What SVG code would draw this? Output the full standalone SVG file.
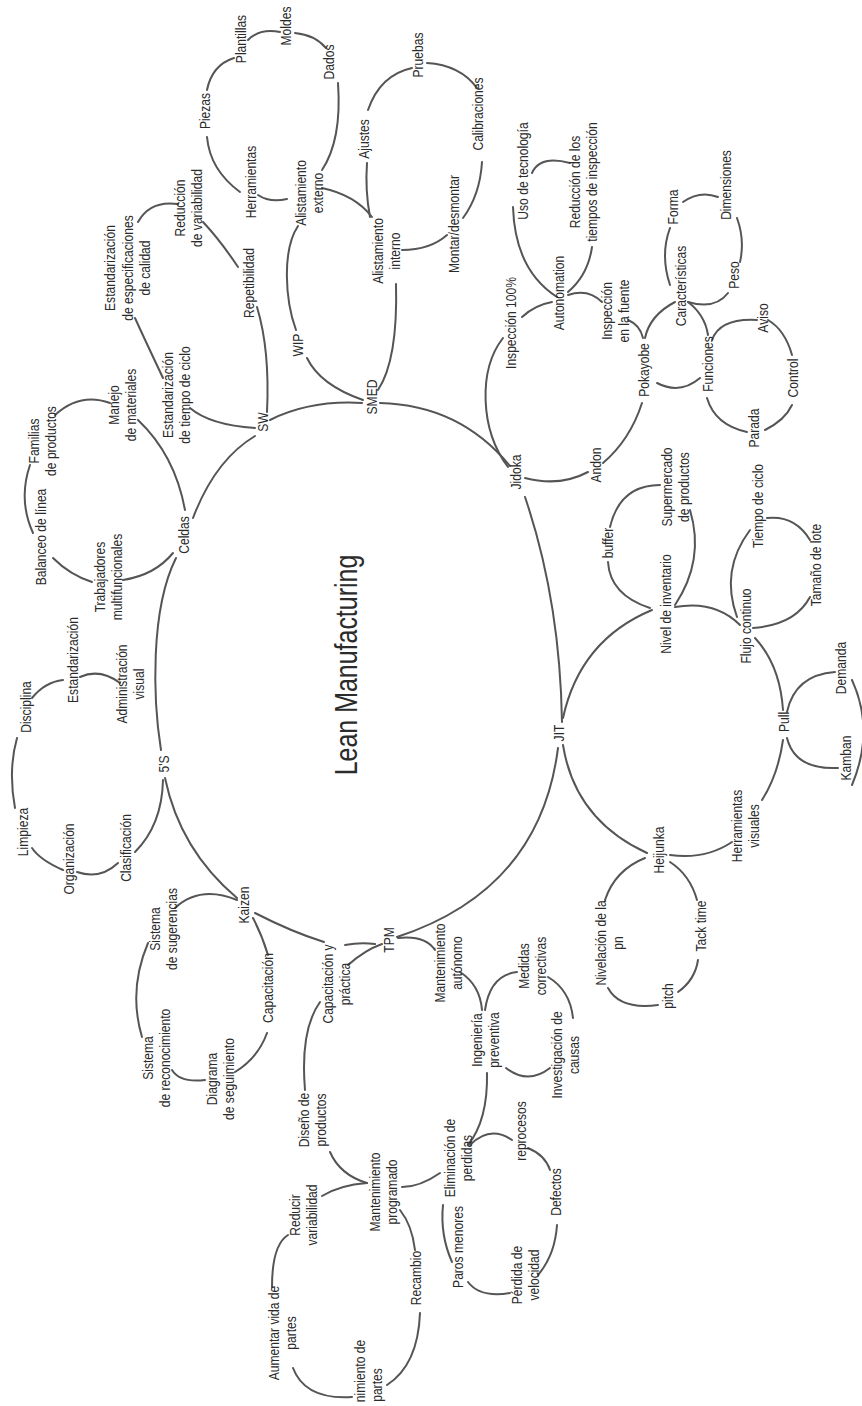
<svg xmlns="http://www.w3.org/2000/svg" width="862" height="1406" viewBox="0 0 862 1406">
<style>
.c{fill:none;stroke:#555;stroke-width:2;stroke-linecap:round}
.t{font-family:"Liberation Sans",Arial,sans-serif;font-size:15.5px;fill:#2b2b2b;text-anchor:middle}
.ti{font-size:32px}
</style>
<rect width="862" height="1406" fill="#fff"/>
<g id="connectors">
<path class="c" d="M270,420 Q310,400 362,403"/>
<path class="c" d="M380,403 Q460,405 510,466"/>
<path class="c" d="M525,497 Q560,600 562,722"/>
<path class="c" d="M558,748 Q540,890 397,937"/>
<path class="c" d="M255,913 Q292,932 324,942"/>
<path class="c" d="M345,945 Q360,942 375,944"/>
<path class="c" d="M348,965 Q365,950 382,944"/>
<path class="c" d="M165,778 Q180,850 237,898"/>
<path class="c" d="M161,750 C153,700 150,610 176,558"/>
<path class="c" d="M193,518 Q215,460 255,436"/>
<path class="c" d="M267,412 Q270,350 257,307"/>
<path class="c" d="M255,428 Q210,425 190,408"/>
<path class="c" d="M163,378 Q145,340 135,318"/>
<path class="c" d="M138,222 Q150,200 178,204"/>
<path class="c" d="M203,222 Q220,240 238,267"/>
<path class="c" d="M363,400 Q320,385 307,358"/>
<path class="c" d="M296,330 C285,300 282,250 298,226"/>
<path class="c" d="M378,390 Q398,360 396,284"/>
<path class="c" d="M258,195 Q270,203 287,199"/>
<path class="c" d="M240,192 Q210,170 207,137"/>
<path class="c" d="M207,90 Q212,65 234,58"/>
<path class="c" d="M248,40 Q260,28 280,32"/>
<path class="c" d="M295,33 Q315,35 326,48"/>
<path class="c" d="M338,83 Q342,140 322,170"/>
<path class="c" d="M322,188 Q355,195 372,217"/>
<path class="c" d="M370,217 Q365,190 367,163"/>
<path class="c" d="M368,110 Q380,75 412,68"/>
<path class="c" d="M427,63 Q460,65 477,88"/>
<path class="c" d="M482,162 Q480,195 463,218"/>
<path class="c" d="M447,235 Q430,250 402,250"/>
<path class="c" d="M508,467 C480,430 478,370 503,338"/>
<path class="c" d="M522,317 Q535,305 552,302"/>
<path class="c" d="M557,297 Q515,270 513,207"/>
<path class="c" d="M532,173 Q540,155 570,163"/>
<path class="c" d="M592,247 Q588,275 568,292"/>
<path class="c" d="M568,295 Q588,288 602,302"/>
<path class="c" d="M628,320 Q640,325 643,338"/>
<path class="c" d="M645,338 Q650,315 675,302"/>
<path class="c" d="M670,285 Q660,255 670,228"/>
<path class="c" d="M683,202 Q700,190 718,197"/>
<path class="c" d="M737,218 Q745,240 740,262"/>
<path class="c" d="M728,293 Q715,310 688,302"/>
<path class="c" d="M688,302 Q705,315 708,335"/>
<path class="c" d="M712,340 Q720,318 757,320"/>
<path class="c" d="M768,320 Q785,330 792,355"/>
<path class="c" d="M792,405 Q785,420 765,430"/>
<path class="c" d="M747,432 Q715,425 707,398"/>
<path class="c" d="M700,378 Q680,395 657,383"/>
<path class="c" d="M642,403 Q630,440 603,463"/>
<path class="c" d="M588,472 Q560,487 525,478"/>
<path class="c" d="M563,718 Q580,640 652,610"/>
<path class="c" d="M650,608 Q610,595 608,562"/>
<path class="c" d="M610,527 Q620,485 660,485"/>
<path class="c" d="M690,510 Q705,560 675,605"/>
<path class="c" d="M675,607 Q715,600 740,625"/>
<path class="c" d="M737,617 Q720,570 750,530"/>
<path class="c" d="M767,518 Q795,515 810,540"/>
<path class="c" d="M810,597 Q795,625 753,628"/>
<path class="c" d="M755,638 Q780,665 783,710"/>
<path class="c" d="M787,712 Q795,675 835,672"/>
<path class="c" d="M852,680 Q875,730 852,785"/>
<path class="c" d="M787,738 Q795,770 838,768"/>
<path class="c" d="M783,740 Q778,775 762,800"/>
<path class="c" d="M732,842 Q705,860 670,855"/>
<path class="c" d="M563,745 Q575,820 647,853"/>
<path class="c" d="M645,858 Q615,870 605,900"/>
<path class="c" d="M670,862 Q690,875 697,900"/>
<path class="c" d="M698,960 Q695,980 678,992"/>
<path class="c" d="M658,1005 Q620,1010 608,988"/>
<path class="c" d="M398,938 Q425,935 435,950"/>
<path class="c" d="M460,972 Q480,985 482,1010"/>
<path class="c" d="M485,1010 Q490,975 517,972"/>
<path class="c" d="M548,977 Q570,990 573,1018"/>
<path class="c" d="M506,1068 Q528,1085 550,1068"/>
<path class="c" d="M487,1073 Q488,1120 468,1145"/>
<path class="c" d="M470,1145 Q490,1125 512,1140"/>
<path class="c" d="M528,1148 Q545,1155 550,1170"/>
<path class="c" d="M557,1225 Q555,1255 538,1275"/>
<path class="c" d="M468,1282 Q480,1298 510,1293"/>
<path class="c" d="M443,1205 Q440,1235 452,1262"/>
<path class="c" d="M440,1173 Q420,1187 402,1187"/>
<path class="c" d="M367,1183 Q340,1175 330,1152"/>
<path class="c" d="M305,1090 Q300,1030 320,1002"/>
<path class="c" d="M367,1183 Q340,1185 322,1196"/>
<path class="c" d="M288,1235 Q272,1245 272,1287"/>
<path class="c" d="M293,1368 Q305,1400 352,1397"/>
<path class="c" d="M387,1385 Q418,1365 420,1313"/>
<path class="c" d="M415,1250 Q412,1225 400,1210"/>
<path class="c" d="M237,900 Q200,885 175,908"/>
<path class="c" d="M148,943 Q128,990 142,1037"/>
<path class="c" d="M172,1070 Q180,1083 205,1080"/>
<path class="c" d="M235,1072 Q258,1058 267,1033"/>
<path class="c" d="M253,918 Q262,935 268,955"/>
<path class="c" d="M163,780 Q162,825 135,852"/>
<path class="c" d="M118,863 Q100,880 77,872"/>
<path class="c" d="M63,870 Q40,860 32,848"/>
<path class="c" d="M15,808 Q8,770 17,738"/>
<path class="c" d="M32,698 Q45,682 63,680"/>
<path class="c" d="M80,677 Q100,668 120,683"/>
<path class="c" d="M185,510 Q175,455 138,420"/>
<path class="c" d="M110,403 Q80,392 55,415"/>
<path class="c" d="M30,465 Q18,500 33,533"/>
<path class="c" d="M53,558 Q70,575 92,582"/>
<path class="c" d="M123,580 Q155,575 173,553"/>
</g>
<g id="n-title" transform="translate(345,665) rotate(-90) scale(.78,1)"><text class="t ti" y="12">Lean Manufacturing</text></g>
<g id="n-plantillas" transform="translate(240,39) rotate(-90) scale(.78,1)"><text class="t" y="5.5">Plantillas</text></g>
<g id="n-moldes" transform="translate(285,26) rotate(-90) scale(.78,1)"><text class="t" y="5.5">Moldes</text></g>
<g id="n-piezas" transform="translate(204,111) rotate(-90) scale(.78,1)"><text class="t" y="5.5">Piezas</text></g>
<g id="n-herramientas" transform="translate(250,182) rotate(-90) scale(.78,1)"><text class="t" y="5.5">Herramientas</text></g>
<g id="n-reduccion-var" transform="translate(188,208) rotate(-90) scale(.78,1)"><text class="t"><tspan x="0" y="-3.2">Reducción</tspan><tspan x="0" y="14.3">de variabilidad</tspan></text></g>
<g id="n-esp-calidad" transform="translate(127,268) rotate(-90) scale(.78,1)"><text class="t"><tspan x="0" y="-12">Estandarización</tspan><tspan x="0" y="5.5">de especificaciones</tspan><tspan x="0" y="23">de calidad</tspan></text></g>
<g id="n-repetibilidad" transform="translate(248,283) rotate(-90) scale(.78,1)"><text class="t" y="5.5">Repetibilidad</text></g>
<g id="n-alist-externo" transform="translate(309,193) rotate(-90) scale(.78,1)"><text class="t"><tspan x="0" y="-3.2">Alistamiento</tspan><tspan x="0" y="14.3">externo</tspan></text></g>
<g id="n-wip" transform="translate(297,345) rotate(-90) scale(.78,1)"><text class="t" y="5.5">WIP</text></g>
<g id="n-dados" transform="translate(328,62) rotate(-90) scale(.78,1)"><text class="t" y="5.5">Dados</text></g>
<g id="n-pruebas" transform="translate(417,55) rotate(-90) scale(.78,1)"><text class="t" y="5.5">Pruebas</text></g>
<g id="n-ajustes" transform="translate(363,139) rotate(-90) scale(.78,1)"><text class="t" y="5.5">Ajustes</text></g>
<g id="n-calibraciones" transform="translate(477,114) rotate(-90) scale(.78,1)"><text class="t" y="5.5">Calibraciones</text></g>
<g id="n-alist-interno" transform="translate(386,251) rotate(-90) scale(.78,1)"><text class="t"><tspan x="0" y="-3.2">Alistamiento</tspan><tspan x="0" y="14.3">interno</tspan></text></g>
<g id="n-montar" transform="translate(453,224) rotate(-90) scale(.78,1)"><text class="t" y="5.5">Montar/desmontar</text></g>
<g id="n-uso-tec" transform="translate(522,171) rotate(-90) scale(.78,1)"><text class="t" y="5.5">Uso de tecnología</text></g>
<g id="n-reduccion-tiempos" transform="translate(583,182) rotate(-90) scale(.78,1)"><text class="t"><tspan x="0" y="-3.2">Reducción de los</tspan><tspan x="0" y="14.3">tiempos de inspección</tspan></text></g>
<g id="n-insp100" transform="translate(510,323) rotate(-90) scale(.78,1)"><text class="t" y="5.5">Inspección 100%</text></g>
<g id="n-autonomation" transform="translate(558,293) rotate(-90) scale(.78,1)"><text class="t" y="5.5">Autonomation</text></g>
<g id="n-forma" transform="translate(672,207) rotate(-90) scale(.78,1)"><text class="t" y="5.5">Forma</text></g>
<g id="n-dimensiones" transform="translate(725,185) rotate(-90) scale(.78,1)"><text class="t" y="5.5">Dimensiones</text></g>
<g id="n-caracteristicas" transform="translate(680,286) rotate(-90) scale(.78,1)"><text class="t" y="5.5">Características</text></g>
<g id="n-peso" transform="translate(733,275) rotate(-90) scale(.78,1)"><text class="t" y="5.5">Peso</text></g>
<g id="n-insp-fuente" transform="translate(615,311) rotate(-90) scale(.78,1)"><text class="t"><tspan x="0" y="-3.2">Inspección</tspan><tspan x="0" y="14.3">en la fuente</tspan></text></g>
<g id="n-aviso" transform="translate(762,318) rotate(-90) scale(.78,1)"><text class="t" y="5.5">Aviso</text></g>
<g id="n-pokayobe" transform="translate(643,370) rotate(-90) scale(.78,1)"><text class="t" y="5.5">Pokayobe</text></g>
<g id="n-funciones" transform="translate(707,364) rotate(-90) scale(.78,1)"><text class="t" y="5.5">Funciones</text></g>
<g id="n-control" transform="translate(792,378) rotate(-90) scale(.78,1)"><text class="t" y="5.5">Control</text></g>
<g id="n-parada" transform="translate(753,428) rotate(-90) scale(.78,1)"><text class="t" y="5.5">Parada</text></g>
<g id="n-andon" transform="translate(595,465) rotate(-90) scale(.78,1)"><text class="t" y="5.5">Andon</text></g>
<g id="n-jidoka" transform="translate(515,472) rotate(-90) scale(.78,1)"><text class="t" y="5.5">Jidoka</text></g>
<g id="n-smed" transform="translate(371,397) rotate(-90) scale(.78,1)"><text class="t" y="5.5">SMED</text></g>
<g id="n-supermercado" transform="translate(675,487) rotate(-90) scale(.78,1)"><text class="t"><tspan x="0" y="-3.2">Supermercado</tspan><tspan x="0" y="14.3">de productos</tspan></text></g>
<g id="n-buffer" transform="translate(607,543) rotate(-90) scale(.78,1)"><text class="t" y="5.5">buffer</text></g>
<g id="n-tiempo-ciclo" transform="translate(757,506) rotate(-90) scale(.78,1)"><text class="t" y="5.5">Tiempo de ciclo</text></g>
<g id="n-tamano-lote" transform="translate(815,565) rotate(-90) scale(.78,1)"><text class="t" y="5.5">Tamaño de lote</text></g>
<g id="n-nivel-inv" transform="translate(665,604) rotate(-90) scale(.78,1)"><text class="t" y="5.5">Nivel de inventario</text></g>
<g id="n-flujo" transform="translate(745,626) rotate(-90) scale(.78,1)"><text class="t" y="5.5">Flujo continuo</text></g>
<g id="n-demanda" transform="translate(840,668) rotate(-90) scale(.78,1)"><text class="t" y="5.5">Demanda</text></g>
<g id="n-familias" transform="translate(42,441) rotate(-90) scale(.78,1)"><text class="t"><tspan x="0" y="-3.2">Familias</tspan><tspan x="0" y="14.3">de productos</tspan></text></g>
<g id="n-manejo" transform="translate(122,405) rotate(-90) scale(.78,1)"><text class="t"><tspan x="0" y="-3.2">Manejo</tspan><tspan x="0" y="14.3">de materiales</tspan></text></g>
<g id="n-est-tiempo" transform="translate(176,395) rotate(-90) scale(.78,1)"><text class="t"><tspan x="0" y="-3.2">Estandarización</tspan><tspan x="0" y="14.3">de tiempo de ciclo</tspan></text></g>
<g id="n-sw" transform="translate(262,422) rotate(-90) scale(.78,1)"><text class="t" y="5.5">SW</text></g>
<g id="n-balanceo" transform="translate(40,537) rotate(-90) scale(.78,1)"><text class="t" y="5.5">Balanceo de línea</text></g>
<g id="n-celdas" transform="translate(183,535) rotate(-90) scale(.78,1)"><text class="t" y="5.5">Celdas</text></g>
<g id="n-trabajadores" transform="translate(108,577) rotate(-90) scale(.78,1)"><text class="t"><tspan x="0" y="-3.2">Trabajadores</tspan><tspan x="0" y="14.3">multifuncionales</tspan></text></g>
<g id="n-estandarizacion" transform="translate(72,660) rotate(-90) scale(.78,1)"><text class="t" y="5.5">Estandarización</text></g>
<g id="n-admin-visual" transform="translate(130,684) rotate(-90) scale(.78,1)"><text class="t"><tspan x="0" y="-3.2">Administración</tspan><tspan x="0" y="14.3">visual</tspan></text></g>
<g id="n-disciplina" transform="translate(25,707) rotate(-90) scale(.78,1)"><text class="t" y="5.5">Disciplina</text></g>
<g id="n-5s" transform="translate(163,764) rotate(-90) scale(.78,1)"><text class="t" y="5.5">5'S</text></g>
<g id="n-limpieza" transform="translate(22,832) rotate(-90) scale(.78,1)"><text class="t" y="5.5">Limpieza</text></g>
<g id="n-organizacion" transform="translate(68,859) rotate(-90) scale(.78,1)"><text class="t" y="5.5">Organización</text></g>
<g id="n-clasificacion" transform="translate(125,848) rotate(-90) scale(.78,1)"><text class="t" y="5.5">Clasificación</text></g>
<g id="n-kaizen" transform="translate(243,905) rotate(-90) scale(.78,1)"><text class="t" y="5.5">Kaizen</text></g>
<g id="n-sugerencias" transform="translate(163,929) rotate(-90) scale(.78,1)"><text class="t"><tspan x="0" y="-3.2">Sistema</tspan><tspan x="0" y="14.3">de sugerencias</tspan></text></g>
<g id="n-capacitacion" transform="translate(267,988) rotate(-90) scale(.78,1)"><text class="t" y="5.5">Capacitación</text></g>
<g id="n-reconocimiento" transform="translate(156,1058) rotate(-90) scale(.78,1)"><text class="t"><tspan x="0" y="-3.2">Sistema</tspan><tspan x="0" y="14.3">de reconocimiento</tspan></text></g>
<g id="n-diagrama" transform="translate(220,1079) rotate(-90) scale(.78,1)"><text class="t"><tspan x="0" y="-3.2">Diagrama</tspan><tspan x="0" y="14.3">de seguimiento</tspan></text></g>
<g id="n-jit" transform="translate(558,733) rotate(-90) scale(.78,1)"><text class="t" y="5.5">JIT</text></g>
<g id="n-tpm" transform="translate(388,940) rotate(-90) scale(.78,1)"><text class="t" y="5.5">TPM</text></g>
<g id="n-cap-practica" transform="translate(336,984) rotate(-90) scale(.78,1)"><text class="t"><tspan x="0" y="-3.2">Capacitación y</tspan><tspan x="0" y="14.3">práctica</tspan></text></g>
<g id="n-mant-autonomo" transform="translate(448,963) rotate(-90) scale(.78,1)"><text class="t"><tspan x="0" y="-3.2">Mantenimiento</tspan><tspan x="0" y="14.3">autónomo</tspan></text></g>
<g id="n-ingenieria" transform="translate(485,1040) rotate(-90) scale(.78,1)"><text class="t"><tspan x="0" y="-3.2">Ingeniería</tspan><tspan x="0" y="14.3">preventiva</tspan></text></g>
<g id="n-medidas" transform="translate(532,966) rotate(-90) scale(.78,1)"><text class="t"><tspan x="0" y="-3.2">Medidas</tspan><tspan x="0" y="14.3">correctivas</tspan></text></g>
<g id="n-investigacion" transform="translate(565,1055) rotate(-90) scale(.78,1)"><text class="t"><tspan x="0" y="-3.2">Investigación de</tspan><tspan x="0" y="14.3">causas</tspan></text></g>
<g id="n-eliminacion" transform="translate(458,1158) rotate(-90) scale(.78,1)"><text class="t"><tspan x="0" y="-3.2">Eliminación de</tspan><tspan x="0" y="14.3">perdidas</tspan></text></g>
<g id="n-reprocesos" transform="translate(520,1131) rotate(-90) scale(.78,1)"><text class="t" y="5.5">reprocesos</text></g>
<g id="n-defectos" transform="translate(555,1192) rotate(-90) scale(.78,1)"><text class="t" y="5.5">Defectos</text></g>
<g id="n-perdida-vel" transform="translate(525,1275) rotate(-90) scale(.78,1)"><text class="t"><tspan x="0" y="-3.2">Pérdida de</tspan><tspan x="0" y="14.3">velocidad</tspan></text></g>
<g id="n-paros" transform="translate(457,1247) rotate(-90) scale(.78,1)"><text class="t" y="5.5">Paros menores</text></g>
<g id="n-mant-prog" transform="translate(383,1192) rotate(-90) scale(.78,1)"><text class="t"><tspan x="0" y="-3.2">Mantenimiento</tspan><tspan x="0" y="14.3">programado</tspan></text></g>
<g id="n-diseno" transform="translate(312,1120) rotate(-90) scale(.78,1)"><text class="t"><tspan x="0" y="-3.2">Diseño de</tspan><tspan x="0" y="14.3">productos</tspan></text></g>
<g id="n-reducir" transform="translate(303,1215) rotate(-90) scale(.78,1)"><text class="t"><tspan x="0" y="-3.2">Reducir</tspan><tspan x="0" y="14.3">variabilidad</tspan></text></g>
<g id="n-aumentar" transform="translate(282,1333) rotate(-90) scale(.78,1)"><text class="t"><tspan x="0" y="-3.2">Aumentar vida de</tspan><tspan x="0" y="14.3">partes</tspan></text></g>
<g id="n-mant-partes" transform="translate(368,1371) rotate(-90) scale(.78,1)"><text class="t"><tspan x="0" y="-3.2">nimiento de</tspan><tspan x="-18" y="14.3">partes</tspan></text></g>
<g id="n-recambio" transform="translate(415,1278) rotate(-90) scale(.78,1)"><text class="t" y="5.5">Recambio</text></g>
<g id="n-pull" transform="translate(783,722) rotate(-90) scale(.78,1)"><text class="t" y="5.5">Pull</text></g>
<g id="n-kamban" transform="translate(845,758) rotate(-90) scale(.78,1)"><text class="t" y="5.5">Kamban</text></g>
<g id="n-herr-visuales" transform="translate(745,826) rotate(-90) scale(.78,1)"><text class="t"><tspan x="0" y="-3.2">Herramientas</tspan><tspan x="0" y="14.3">visuales</tspan></text></g>
<g id="n-heijunka" transform="translate(658,850) rotate(-90) scale(.78,1)"><text class="t" y="5.5">Heijunka</text></g>
<g id="n-nivelacion" transform="translate(609,943) rotate(-90) scale(.78,1)"><text class="t"><tspan x="0" y="-3.2">Nivelación de la</tspan><tspan x="0" y="14.3">pn</tspan></text></g>
<g id="n-tack" transform="translate(700,926) rotate(-90) scale(.78,1)"><text class="t" y="5.5">Tack time</text></g>
<g id="n-pitch" transform="translate(667,996) rotate(-90) scale(.78,1)"><text class="t" y="5.5">pitch</text></g>
</svg>
